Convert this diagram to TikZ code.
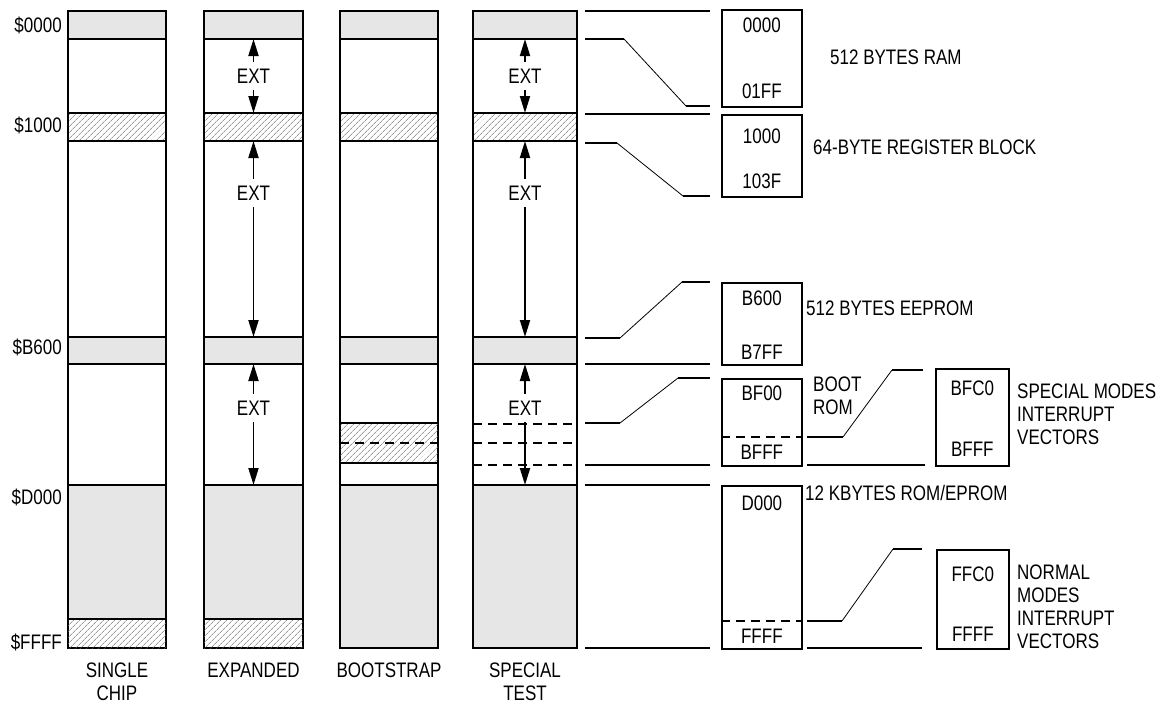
\documentclass[tikz,border=0pt]{standalone}
\usepackage{fontspec}
\setmainfont{Liberation Sans}[FakeStretch=0.81]
\usetikzlibrary{arrows.meta,patterns.meta,positioning,calc}
\definecolor{mapgray}{RGB}{230,230,230}
\definecolor{hatchgray}{RGB}{100,100,100}

\begin{document}
\begin{tikzpicture}[
    x=1pt, y=-1pt,
    every node/.style={font=\fontsize{21}{23}\selectfont, inner sep=0pt},
    wall/.style={line width=1.7pt},
    hatch/.style={pattern={Lines[angle=45,distance=4pt,line width=0.5pt]},
                  pattern color=hatchgray},
    rng/.style={draw, line width=1.7pt, minimum width=80pt, anchor=north west},
    tie/.style={line width=1.7pt},
    slope/.style={line width=0.8pt},
    cut/.style={line width=1.5pt, dash pattern=on 9pt off 6pt},
    ext/.style={-{Triangle[length=17pt,width=10pt]}, line width=1.9pt,
                shorten <=7pt}
]
    \useasboundingbox (0,0) rectangle (1165,705);

    % band edges
    \coordinate (b1) at (0,39);
    \coordinate (b2) at (0,113);
    \coordinate (b3) at (0,141);
    \coordinate (b4) at (0,337);
    \coordinate (b5) at (0,364);
    \coordinate (b6) at (0,485);

    % the four memory maps
    \foreach \cx/\cw/\gb in {68/98/619, 204/99/619, 340/98/648, 473/104/648} {
        \fill[mapgray] (\cx,11) rectangle ++(\cw,28);
        \fill[hatch] (\cx,113) rectangle ++(\cw,28);
        \fill[mapgray] (\cx,337) rectangle ++(\cw,27);
        \fill[mapgray] (\cx,485) rectangle (\cx+\cw,\gb);
        \draw[wall] (\cx,11) rectangle ++(\cw,637);
        \foreach \by in {39,113,141,337,364,485}
            \draw[wall] (\cx,\by) -- ++(\cw,0);
    }
    \foreach \cx/\cw in {68/98, 204/99} {
        \fill[hatch] (\cx,619) rectangle ++(\cw,29);
        \draw[wall] (\cx,619) -- ++(\cw,0);
    }
    % boot rom inside bootstrap and special test
    \fill[hatch] (340,423) rectangle ++(98,40);
    \draw[wall] (340,423) -- ++(98,0) (340,463) -- ++(98,0);
    \draw[cut] (340,443) -- ++(98,0);
    \foreach \by in {424,443,465}
        \draw[cut] (473,\by) -- ++(104,0);

    % external areas
    \foreach \cc/\nm in {253.5/xp, 525/st} {
        \node (\nm-1) at (\cc,76)  {EXT};
        \node (\nm-2) at (\cc,193) {EXT};
        \node (\nm-3) at (\cc,408) {EXT};
        \draw[ext] (\nm-1.north) -- (\nm-1.north |- b1);
        \draw[ext] (\nm-1.south) -- (\nm-1.south |- b2);
        \draw[ext] (\nm-2.north) -- (\nm-2.north |- b3);
        \draw[ext] (\nm-2.south) -- (\nm-2.south |- b4);
        \draw[ext] (\nm-3.north) -- (\nm-3.north |- b5);
        \draw[ext] (\nm-3.south) -- (\nm-3.south |- b6);
    }

    % addresses and mode names
    \node[anchor=east] (a0000) at (62,25)  {\$0000};
    \node[anchor=east] (a1000) at (62,125) {\$1000};
    \node[anchor=east] (ab600) at (62,347) {\$B600};
    \node[anchor=east] (ad000) at (62,497) {\$D000};
    \node[anchor=east] (affff) at (62,642) {\$FFFF};
    \node[anchor=north, align=center] (single) at (117,663)   {SINGLE\\CHIP};
    \node[anchor=north] (expanded)             at (253.5,663) {EXPANDED};
    \node[anchor=north] (bootstrap)            at (389,663)   {BOOTSTRAP};
    \node[anchor=north, align=center] (special) at (525,663)  {SPECIAL\\TEST};

    % detail boxes
    \node[rng, minimum height=97pt] (ram) at (721,9) {};
    \node (ramlo) at ($(ram.north)+(0,16)$)  {0000};
    \node (ramhi) at ($(ram.south)+(0,-16)$) {01FF};
    \node[rng, minimum height=82pt] (reg) at (721,114) {};
    \node (reglo) at ($(reg.north)+(0,22)$)  {1000};
    \node (reghi) at ($(reg.south)+(0,-16)$) {103F};
    \node[rng, minimum height=82pt] (eep) at (721,282) {};
    \node (eeplo) at ($(eep.north)+(0,16)$)  {B600};
    \node (eephi) at ($(eep.south)+(0,-13)$) {B7FF};
    \node[rng, minimum height=87pt] (boot) at (721,378) {};
    \node (bootlo) at ($(boot.north)+(0,15)$)  {BF00};
    \node (boothi) at ($(boot.south)+(0,-14)$) {BFFF};
    \draw[cut] ($(boot.north west)+(0,59)$) -- ($(boot.north east)+(0,59)$);
    \node[rng, minimum height=163pt] (rom) at (721,485) {};
    \node (romlo) at ($(rom.north)+(0,18)$)  {D000};
    \node (romhi) at ($(rom.south)+(0,-13)$) {FFFF};
    \draw[cut] ($(rom.north west)+(0,136)$) -- ($(rom.north east)+(0,136)$);
    \node[rng, minimum width=73pt, minimum height=97pt] (svec) at (935,368) {};
    \node (sveclo) at ($(svec.north)+(0,20)$)  {BFC0};
    \node (svechi) at ($(svec.south)+(0,-17)$) {BFFF};
    \node[rng, minimum width=72pt, minimum height=99pt] (nvec) at (936,549) {};
    \node (nveclo) at ($(nvec.north)+(0,25)$)  {FFC0};
    \node (nvechi) at ($(nvec.south)+(0,-15)$) {FFFF};

    \node[anchor=west] (ramtxt) at (830,57)  {512 BYTES RAM};
    \node[anchor=west] (regtxt) at (813,147) {64-BYTE REGISTER BLOCK};
    \node[anchor=west] (eeptxt) at (806,308) {512 BYTES EEPROM};
    \node[anchor=west] (romtxt) at (805,493) {12 KBYTES ROM/EPROM};
    \node[anchor=north west, align=left] (boottxt) at (813,377) {BOOT\\ROM};
    \node[anchor=north west, align=left] (svtxt) at (1017,384)
        {SPECIAL MODES\\INTERRUPT\\VECTORS};
    \node[anchor=north west, align=left] (nvtxt) at (1017,565)
        {NORMAL\\MODES\\INTERRUPT\\VECTORS};

    % expansion lines
    \foreach \by in {11,114,364,465,485,648}
        \draw[tie] (585,\by) -- (710,\by);
    \draw[tie] (585,39) -- (624,39) (686,106) -- (710,106);
    \draw[slope] (624,39) -- (686,106);
    \draw[tie] (585,143) -- (617,143) (683,196) -- (710,196);
    \draw[slope] (617,143) -- (683,196);
    \draw[tie] (585,338) -- (620,338) (682,282) -- (710,282);
    \draw[slope] (620,338) -- (682,282);
    \draw[tie] (585,423) -- (620,423) (678,378) -- (710,378);
    \draw[slope] (620,423) -- (678,378);
    \draw[tie] (807,437) -- (843,437) (892,370) -- (923,370);
    \draw[slope] (843,437) -- (892,370);
    \draw[tie] (807,465) -- (925,465);
    \draw[tie] (807,621) -- (842,621) (893,549) -- (922,549);
    \draw[slope] (842,621) -- (893,549);
    \draw[tie] (807,648) -- (922,648);
\end{tikzpicture}
\end{document}
